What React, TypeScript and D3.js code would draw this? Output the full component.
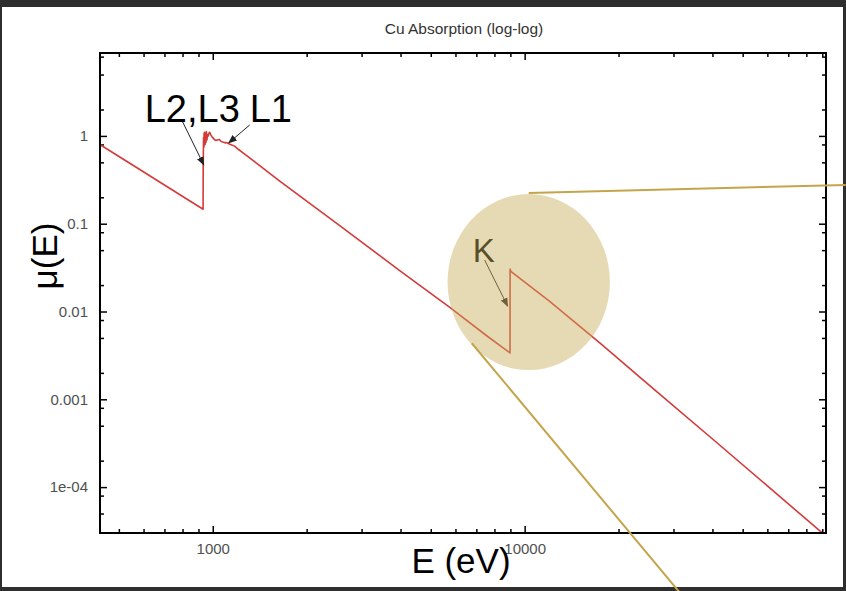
import React, { useEffect, useRef } from "react";
import * as d3 from "d3";

// Cu absorption curve (E in eV, mu in arbitrary units)
const energy = [
  437, 550, 700, 850, 929, 931, 932, 933, 934, 936, 938, 940, 942, 945, 948, 951, 954, 958, 962,
  967, 972, 978, 986, 994, 1002, 1012, 1022, 1035, 1050, 1062, 1075, 1090, 1098, 1105, 1115, 1130,
  1150, 1175, 1210, 1260, 1640, 2553, 3975, 5741, 7500, 8975, 8979, 8985, 8995, 9010, 9050, 12000,
  17449, 26000, 40730, 60000, 90340, 92500,
];
const mu = [
  0.789, 0.473, 0.276, 0.179, 0.147, 0.146, 0.46, 0.62, 0.95, 0.74, 1.08, 0.78, 1.1, 0.8, 1.06,
  0.84, 1.12, 0.9, 1.04, 1.0, 1.07, 1.1, 1.03, 0.98, 0.95, 0.91, 0.89, 0.9, 0.91, 0.87, 0.855, 0.84,
  0.83, 0.84, 0.83, 0.81, 0.79, 0.765, 0.7, 0.63, 0.305, 0.095, 0.0293, 0.0112, 0.0054, 0.00337,
  0.0283, 0.0305, 0.029, 0.0295, 0.0285, 0.01314, 0.00436, 0.0013, 0.000335, 0.0001032, 2.97e-5,
  2.75e-5,
];

const xTickValues = [1000, 10000];
const xTickLabels = ["1000", "10000"];
const yTickValues = [1e-4, 1e-3, 1e-2, 1e-1, 1];
const yTickLabels = ["1e-04", "0.001", "0.01", "0.1", "1"];

// edge annotations (data coordinates)
const edgeLabels = ["L2,L3", "L1", "K"];
const edgeLabelE = [605, 1314, 6813];
const edgeLabelMu = [1.44, 1.44, 0.0366];
const arrowFromE = [801, 1314, 7442];
const arrowFromMu = [1.44, 1.334, 0.0386];
const arrowToE = [936, 1125, 8820];
const arrowToMu = [0.467, 0.832, 0.0115];

// zoom callout around the K edge (data coordinates)
const zoomE = [5660, 18760];
const zoomMu = [0.00215, 0.218];
const calloutFromE = [10302, 6769];
const calloutFromMu = [0.224, 0.00435];
const calloutToE = [107000, 31300];
const calloutToMu = [0.276, 6.4e-6];

const W = 846;
const H = 591;
const margin = { top: 53, right: 20, bottom: 58, left: 100 };
const font = "'Liberation Sans', Arial, sans-serif";

export default function App() {
  const ref = useRef<SVGSVGElement>(null);

  useEffect(() => {
    const svg = d3.select(ref.current);
    svg.selectAll("*").remove();

    const x = d3.scaleLog().domain([435, 92500]).range([margin.left, W - margin.right]);
    const y = d3.scaleLog().domain([3e-5, 8.8]).range([H - margin.bottom, margin.top]);

    // window background
    svg.append("rect").attr("width", W).attr("height", H).attr("fill", "#2e2e2e");
    svg.append("rect").attr("x", 2).attr("y", 7).attr("width", W - 5).attr("height", H - 11).attr("fill", "#fff");

    svg
      .append("text")
      .attr("x", 464)
      .attr("y", 34)
      .attr("text-anchor", "middle")
      .style("font-family", font)
      .style("font-size", "15.5px")
      .attr("fill", "#333")
      .text("Cu Absorption (log-log)");

    // minor tick positions
    const yMinor: number[] = [];
    for (let d = -5; d <= 0; d++) [2, 5, 8].forEach((m) => yMinor.push(m * Math.pow(10, d)));
    const yMinorIn = yMinor.filter((v) => v > 3e-5 && v < 8.8);
    const xMinor: number[] = [];
    for (let d = 2; d <= 4; d++) [2, 3, 4, 5, 6, 7, 8, 9].forEach((m) => xMinor.push(m * Math.pow(10, d)));
    const xMinorIn = xMinor.filter((v) => v > 435 && v < 92500);

    const bottom = H - margin.bottom;
    const right = W - margin.right;

    const styleAxis = (g: any) => {
      g.select(".domain").remove();
      g.selectAll("line").attr("stroke", "#000").attr("stroke-width", 1.5);
      g.selectAll("text").style("font-family", font).style("font-size", "15px").attr("fill", "#505050");
    };

    // major axes
    svg.append("g").attr("transform", `translate(0,${bottom})`)
      .call(d3.axisBottom(x).tickValues(xTickValues).tickFormat((_, i) => xTickLabels[i]).tickSize(-7).tickPadding(10))
      .call(styleAxis);
    svg.append("g").attr("transform", `translate(${margin.left},0)`)
      .call(d3.axisLeft(y).tickValues(yTickValues).tickFormat((_, i) => yTickLabels[i]).tickSize(-7).tickPadding(12))
      .call(styleAxis);
    svg.append("g").attr("transform", `translate(0,${margin.top})`)
      .call(d3.axisTop(x).tickValues(xTickValues).tickFormat(() => "").tickSize(-7))
      .call(styleAxis);
    svg.append("g").attr("transform", `translate(${right},0)`)
      .call(d3.axisRight(y).tickValues(yTickValues).tickFormat(() => "").tickSize(-7))
      .call(styleAxis);

    // minor ticks
    svg.append("g").attr("transform", `translate(0,${bottom})`)
      .call(d3.axisBottom(x).tickValues(xMinorIn).tickFormat(() => "").tickSize(-4)).call(styleAxis);
    svg.append("g").attr("transform", `translate(0,${margin.top})`)
      .call(d3.axisTop(x).tickValues(xMinorIn).tickFormat(() => "").tickSize(-4)).call(styleAxis);
    svg.append("g").attr("transform", `translate(${margin.left},0)`)
      .call(d3.axisLeft(y).tickValues(yMinorIn).tickFormat(() => "").tickSize(-4)).call(styleAxis);
    svg.append("g").attr("transform", `translate(${right},0)`)
      .call(d3.axisRight(y).tickValues(yMinorIn).tickFormat(() => "").tickSize(-4)).call(styleAxis);

    // curve
    svg.append("clipPath").attr("id", "plot-clip")
      .append("rect")
      .attr("x", margin.left).attr("y", margin.top)
      .attr("width", right - margin.left).attr("height", bottom - margin.top);

    const line = d3.line<number>().x((d) => x(d)).y((_, i) => y(mu[i]));
    svg.append("path")
      .attr("clip-path", "url(#plot-clip)")
      .attr("d", line(energy))
      .attr("fill", "none")
      .attr("stroke", "#d43a3a")
      .attr("stroke-width", 1.6)
      .attr("stroke-linejoin", "round");

    // frame
    svg.append("rect")
      .attr("x", margin.left).attr("y", margin.top)
      .attr("width", right - margin.left).attr("height", bottom - margin.top)
      .attr("fill", "none").attr("stroke", "#000").attr("stroke-width", 2);

    // axis titles
    svg.append("text")
      .attr("x", 461).attr("y", 573)
      .attr("text-anchor", "middle")
      .style("font-family", font).style("font-size", "35px")
      .text("E (eV)");
    svg.append("text")
      .attr("transform", "translate(57,256) rotate(-90)")
      .attr("text-anchor", "middle")
      .style("font-family", font).style("font-size", "35px")
      .text("\u03bc(E)");

    // arrows
    const defs = svg.append("defs");
    defs.append("marker")
      .attr("id", "arrow").attr("viewBox", "0 0 10 10")
      .attr("refX", 9).attr("refY", 5)
      .attr("markerWidth", 9).attr("markerHeight", 9)
      .attr("markerUnits", "userSpaceOnUse")
      .attr("orient", "auto")
      .append("path").attr("d", "M0,1 L10,5 L0,9 Z").attr("fill", "#222");

    svg.append("g")
      .selectAll("line")
      .data(edgeLabels)
      .join("line")
      .attr("x1", (_, i) => x(arrowFromE[i]))
      .attr("y1", (_, i) => y(arrowFromMu[i]))
      .attr("x2", (_, i) => x(arrowToE[i]))
      .attr("y2", (_, i) => y(arrowToMu[i]))
      .attr("stroke", "#222")
      .attr("stroke-width", 1)
      .attr("marker-end", "url(#arrow)");

    svg.append("g")
      .selectAll("text")
      .data(edgeLabels)
      .join("text")
      .attr("x", (_, i) => x(edgeLabelE[i]))
      .attr("y", (_, i) => y(edgeLabelMu[i]))
      .style("font-family", font)
      .style("font-size", (d) => (d === "K" ? "33px" : "38px"))
      .attr("fill", "#000")
      .text((d) => d);

    // zoom highlight
    const cx = (x(zoomE[0]) + x(zoomE[1])) / 2;
    const cy = (y(zoomMu[0]) + y(zoomMu[1])) / 2;
    svg.append("ellipse")
      .attr("cx", cx).attr("cy", cy)
      .attr("rx", (x(zoomE[1]) - x(zoomE[0])) / 2)
      .attr("ry", (y(zoomMu[0]) - y(zoomMu[1])) / 2)
      .attr("fill", "#c8ad59")
      .attr("fill-opacity", 0.45);

    // window edges
    svg.append("path")
      .attr("d", `M0,0H${W}V${H}H0Z M2,7V${H - 4}H${W - 3}V7Z`)
      .attr("fill", "#2e2e2e")
      .attr("fill-rule", "evenodd");

    svg.append("g")
      .selectAll("line")
      .data(calloutFromE)
      .join("line")
      .attr("x1", (_, i) => x(calloutFromE[i]))
      .attr("y1", (_, i) => y(calloutFromMu[i]))
      .attr("x2", (_, i) => x(calloutToE[i]))
      .attr("y2", (_, i) => y(calloutToMu[i]))
      .attr("stroke", "#c4a54c")
      .attr("stroke-width", 2);
  }, []);

  return (
    <svg
      ref={ref}
      width={W}
      height={H}
      style={{ position: "absolute", left: 0, top: 0, display: "block" }}
    />
  );
}
